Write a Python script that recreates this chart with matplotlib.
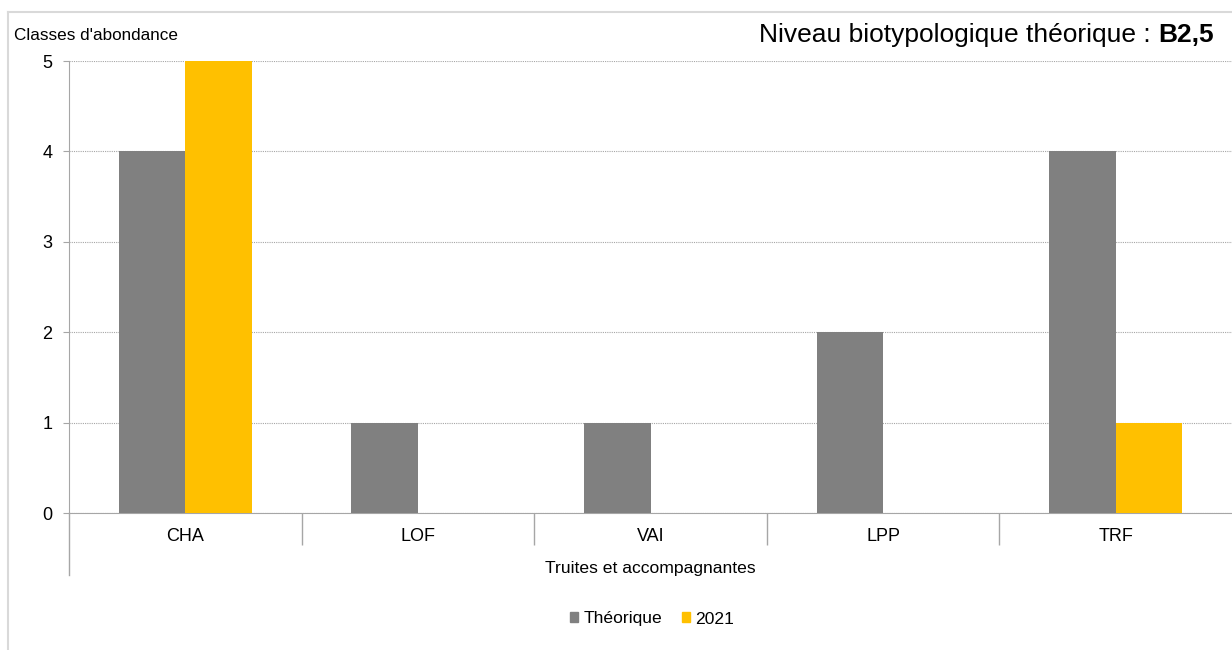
import matplotlib
matplotlib.use("Agg")
import matplotlib.pyplot as plt
from matplotlib.lines import Line2D
from matplotlib.patches import Patch
import numpy as np

plt.rcParams["font.family"] = ["Liberation Sans", "DejaVu Sans"]

especes = ["CHA", "LOF", "VAI", "LPP", "TRF"]
theorique = [4, 1, 1, 2, 4]
annee_2021 = [5, 0, 0, 0, 1]

gris = "#808080"
jaune = "#FFC000"
trait = "#a6a6a6"

fig = plt.figure(figsize=(12.32, 6.5), dpi=100)
ax = fig.add_axes([69 / 1232, 1 - 513 / 650, 1 - 69 / 1232, (513 - 61) / 650])

x = np.arange(len(especes))
larg = 0.286
ax.bar(x - larg / 2, theorique, larg, color=gris, zorder=3)
ax.bar(x + larg / 2, annee_2021, larg, color=jaune, zorder=3)

ax.set_xlim(-0.5, len(especes) - 0.5)
ax.set_ylim(0, 5)
ax.set_yticks(range(6))
ax.yaxis.grid(True, color=trait, linestyle=(0, (1, 1)), linewidth=0.8, zorder=0)

for s in ["top", "right"]:
    ax.spines[s].set_visible(False)
ax.spines["bottom"].set_color(trait)
ax.spines["left"].set_color(trait)

ax.tick_params(axis="y", colors=trait, labelcolor="black", labelsize=13,
               length=4, pad=8)

# séparateurs de catégories sous l'axe
ax.set_xticks(x)
ax.set_xticklabels(especes)
ax.tick_params(axis="x", length=0, labelsize=13, pad=11)
ax.set_xticks(np.arange(0.5, len(especes) - 0.5, 1), minor=True)
ax.tick_params(axis="x", which="minor", length=23, color=trait, width=1)

# axe gauche prolongé jusqu'au libellé de groupe
trans = ax.get_yaxis_transform()
ax.add_line(Line2D([0, 0], [0, -0.69], transform=trans, color=trait,
                   linewidth=1, clip_on=False))

ax.set_xlabel("Truites et accompagnantes", fontsize=12.6, labelpad=8)

fig.text(14 / 1232, 1 - 35 / 650, "Classes d'abondance", fontsize=12.3,
         va="center", ha="left")

# titre : partie normale + valeur en gras, alignés à droite
t_gras = fig.text(1214 / 1232, 1 - 35 / 650, "B2,5", fontsize=19,
                  fontweight="bold", va="center", ha="right")
fig.canvas.draw()
bb = t_gras.get_window_extent()
fig.text(bb.x0 / fig.bbox.width, 1 - 35 / 650, "Niveau biotypologique théorique : ",
         fontsize=19, va="center", ha="right")

handles = [Patch(color=gris, label="Théorique"), Patch(color=jaune, label="2021")]
fig.legend(handles=handles, loc="center", bbox_to_anchor=(652 / 1232, 1 - 619 / 650),
           ncol=2, frameon=False, fontsize=12.6, handlelength=0.5, handleheight=0.5,
           handletextpad=0.3, columnspacing=1.1)

# cadre du graphique
cadre = "#d9d9d9"
fig.add_artist(Line2D([8 / 1232, 8 / 1232], [0, 1 - 12 / 650], color=cadre, linewidth=1.5))
fig.add_artist(Line2D([8 / 1232, 1], [1 - 12 / 650, 1 - 12 / 650], color=cadre, linewidth=1.5))

fig.savefig("out.png", dpi=100)
